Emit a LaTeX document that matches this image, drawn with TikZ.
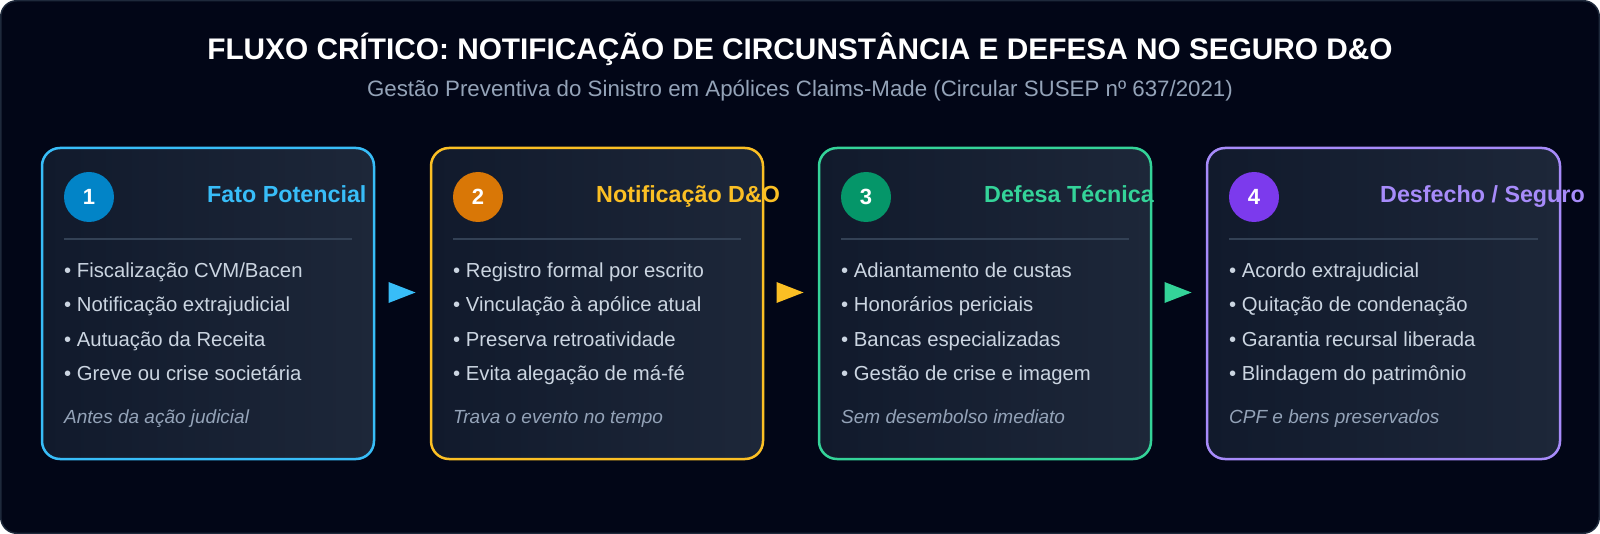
\documentclass[tikz,border=0pt]{standalone}
\usepackage{fontspec}
\setmainfont{Liberation Sans}
\usetikzlibrary{calc}
\definecolor{bg}{HTML}{020617}
\definecolor{frame}{HTML}{1E293B}
\definecolor{cardA}{HTML}{111A2C}
\definecolor{cardB}{HTML}{1D2739}
\definecolor{divline}{HTML}{334155}
\definecolor{bullet}{HTML}{CBD5E1}
\definecolor{note}{HTML}{94A3B8}
\definecolor{skyL}{HTML}{38BDF8}\definecolor{skyD}{HTML}{0284C7}
\definecolor{ambL}{HTML}{FBBF24}\definecolor{ambD}{HTML}{D97706}
\definecolor{emeL}{HTML}{34D399}\definecolor{emeD}{HTML}{059669}
\definecolor{vioL}{HTML}{A78BFA}\definecolor{vioD}{HTML}{7C3AED}
\newcommand\pxsize[1]{\fontsize{#1}{#1}\selectfont}
\begin{document}
\begin{tikzpicture}[x=1pt,y=-1pt,
  cardbox/.style={draw=#1, line width=2.5pt, rounded corners=18pt, left color=cardA, right color=cardB,
    minimum width=332pt, minimum height=311pt, anchor=north west, inner sep=0pt, outer sep=0pt},
  numdisc/.style={circle, fill=#1, minimum size=50pt, inner sep=0pt, text=white, font=\pxsize{22}\bfseries},
  cardtitle/.style={anchor=base west, inner sep=0pt, text=#1, font=\pxsize{23.3}\bfseries},
  item/.style={anchor=base west, inner sep=0pt, text=bullet, font=\pxsize{20.3}},
  notetext/.style={anchor=base west, inner sep=0pt, text=note, font=\pxsize{19}\itshape},
  sep/.style={draw=divline, line width=2pt},
]
\useasboundingbox (0,0) rectangle (1600,534);
\fill[white] (0,0) rectangle (1600,534);
\draw[fill=bg, draw=frame, line width=1.5pt, rounded corners=16pt] (0.75,0.75) rectangle (1599.25,533.25);

\node[font=\pxsize{29.8}\bfseries, text=white, anchor=base, inner sep=0pt] (title) at (800,59.5)
  {FLUXO CRÍTICO: NOTIFICAÇÃO DE CIRCUNSTÂNCIA E DEFESA NO SEGURO D\&O};
\node[font=\pxsize{22.3}, text=note, anchor=base, inner sep=0pt] (sub) at (800,97)
  {Gestão Preventiva do Sinistro em Apólices Claims-Made (Circular SUSEP nº 637/2021)};

% card 1
\node[cardbox=skyL] (c1) at (42,148) {};
\node[numdisc=skyD] (n1) at (89,197) {1};
\node[cardtitle=skyL] (t1) at (207,203) {Fato Potencial};
\draw[sep] (64,239) -- (352,239);
\node[item] (b11) at (64,278) {• Fiscalização CVM/Bacen};
\node[item] (b12) at (64,312) {• Notificação extrajudicial};
\node[item] (b13) at (64,346) {• Autuação da Receita};
\node[item] (b14) at (64,380) {• Greve ou crise societária};
\node[notetext] (f1) at (64,423) {Antes da ação judicial};

% card 2
\node[cardbox=ambL] (c2) at (431,148) {};
\node[numdisc=ambD] (n2) at (478,197) {2};
\node[cardtitle=ambL] (t2) at (596,203) {Notificação D\&O};
\draw[sep] (453,239) -- (741,239);
\node[item] (b21) at (453,278) {• Registro formal por escrito};
\node[item] (b22) at (453,312) {• Vinculação à apólice atual};
\node[item] (b23) at (453,346) {• Preserva retroatividade};
\node[item] (b24) at (453,380) {• Evita alegação de má-fé};
\node[notetext] (f2) at (453,423) {Trava o evento no tempo};

% card 3
\node[cardbox=emeL] (c3) at (819,148) {};
\node[numdisc=emeD] (n3) at (866,197) {3};
\node[cardtitle=emeL] (t3) at (984,203) {Defesa Técnica};
\draw[sep] (841,239) -- (1129,239);
\node[item] (b31) at (841,278) {• Adiantamento de custas};
\node[item] (b32) at (841,312) {• Honorários periciais};
\node[item] (b33) at (841,346) {• Bancas especializadas};
\node[item] (b34) at (841,380) {• Gestão de crise e imagem};
\node[notetext] (f3) at (841,423) {Sem desembolso imediato};

% card 4 (wider)
\node[cardbox=vioL, minimum width=353pt] (c4) at (1207,148) {};
\node[numdisc=vioD] (n4) at (1254,197) {4};
\node[cardtitle=vioL] (t4) at (1380,203) {Desfecho / Seguro};
\draw[sep] (1229,239) -- (1538,239);
\node[item] (b41) at (1229,278) {• Acordo extrajudicial};
\node[item] (b42) at (1229,312) {• Quitação de condenação};
\node[item] (b43) at (1229,346) {• Garantia recursal liberada};
\node[item] (b44) at (1229,380) {• Blindagem do patrimônio};
\node[notetext] (f4) at (1229,423) {CPF e bens preservados};

% arrows
\coordinate (a1) at (402.5,292.5);
\coordinate (a2) at (790.5,292.5);
\coordinate (a3) at (1178.5,292.5);
\fill[skyL] ($(a1)+(-14,-10.5)$) -- ($(a1)+(13,0)$) -- ($(a1)+(-14,10.5)$) -- cycle;
\fill[ambL] ($(a2)+(-14,-10.5)$) -- ($(a2)+(13,0)$) -- ($(a2)+(-14,10.5)$) -- cycle;
\fill[emeL] ($(a3)+(-14,-10.5)$) -- ($(a3)+(13,0)$) -- ($(a3)+(-14,10.5)$) -- cycle;
\end{tikzpicture}
\end{document}
